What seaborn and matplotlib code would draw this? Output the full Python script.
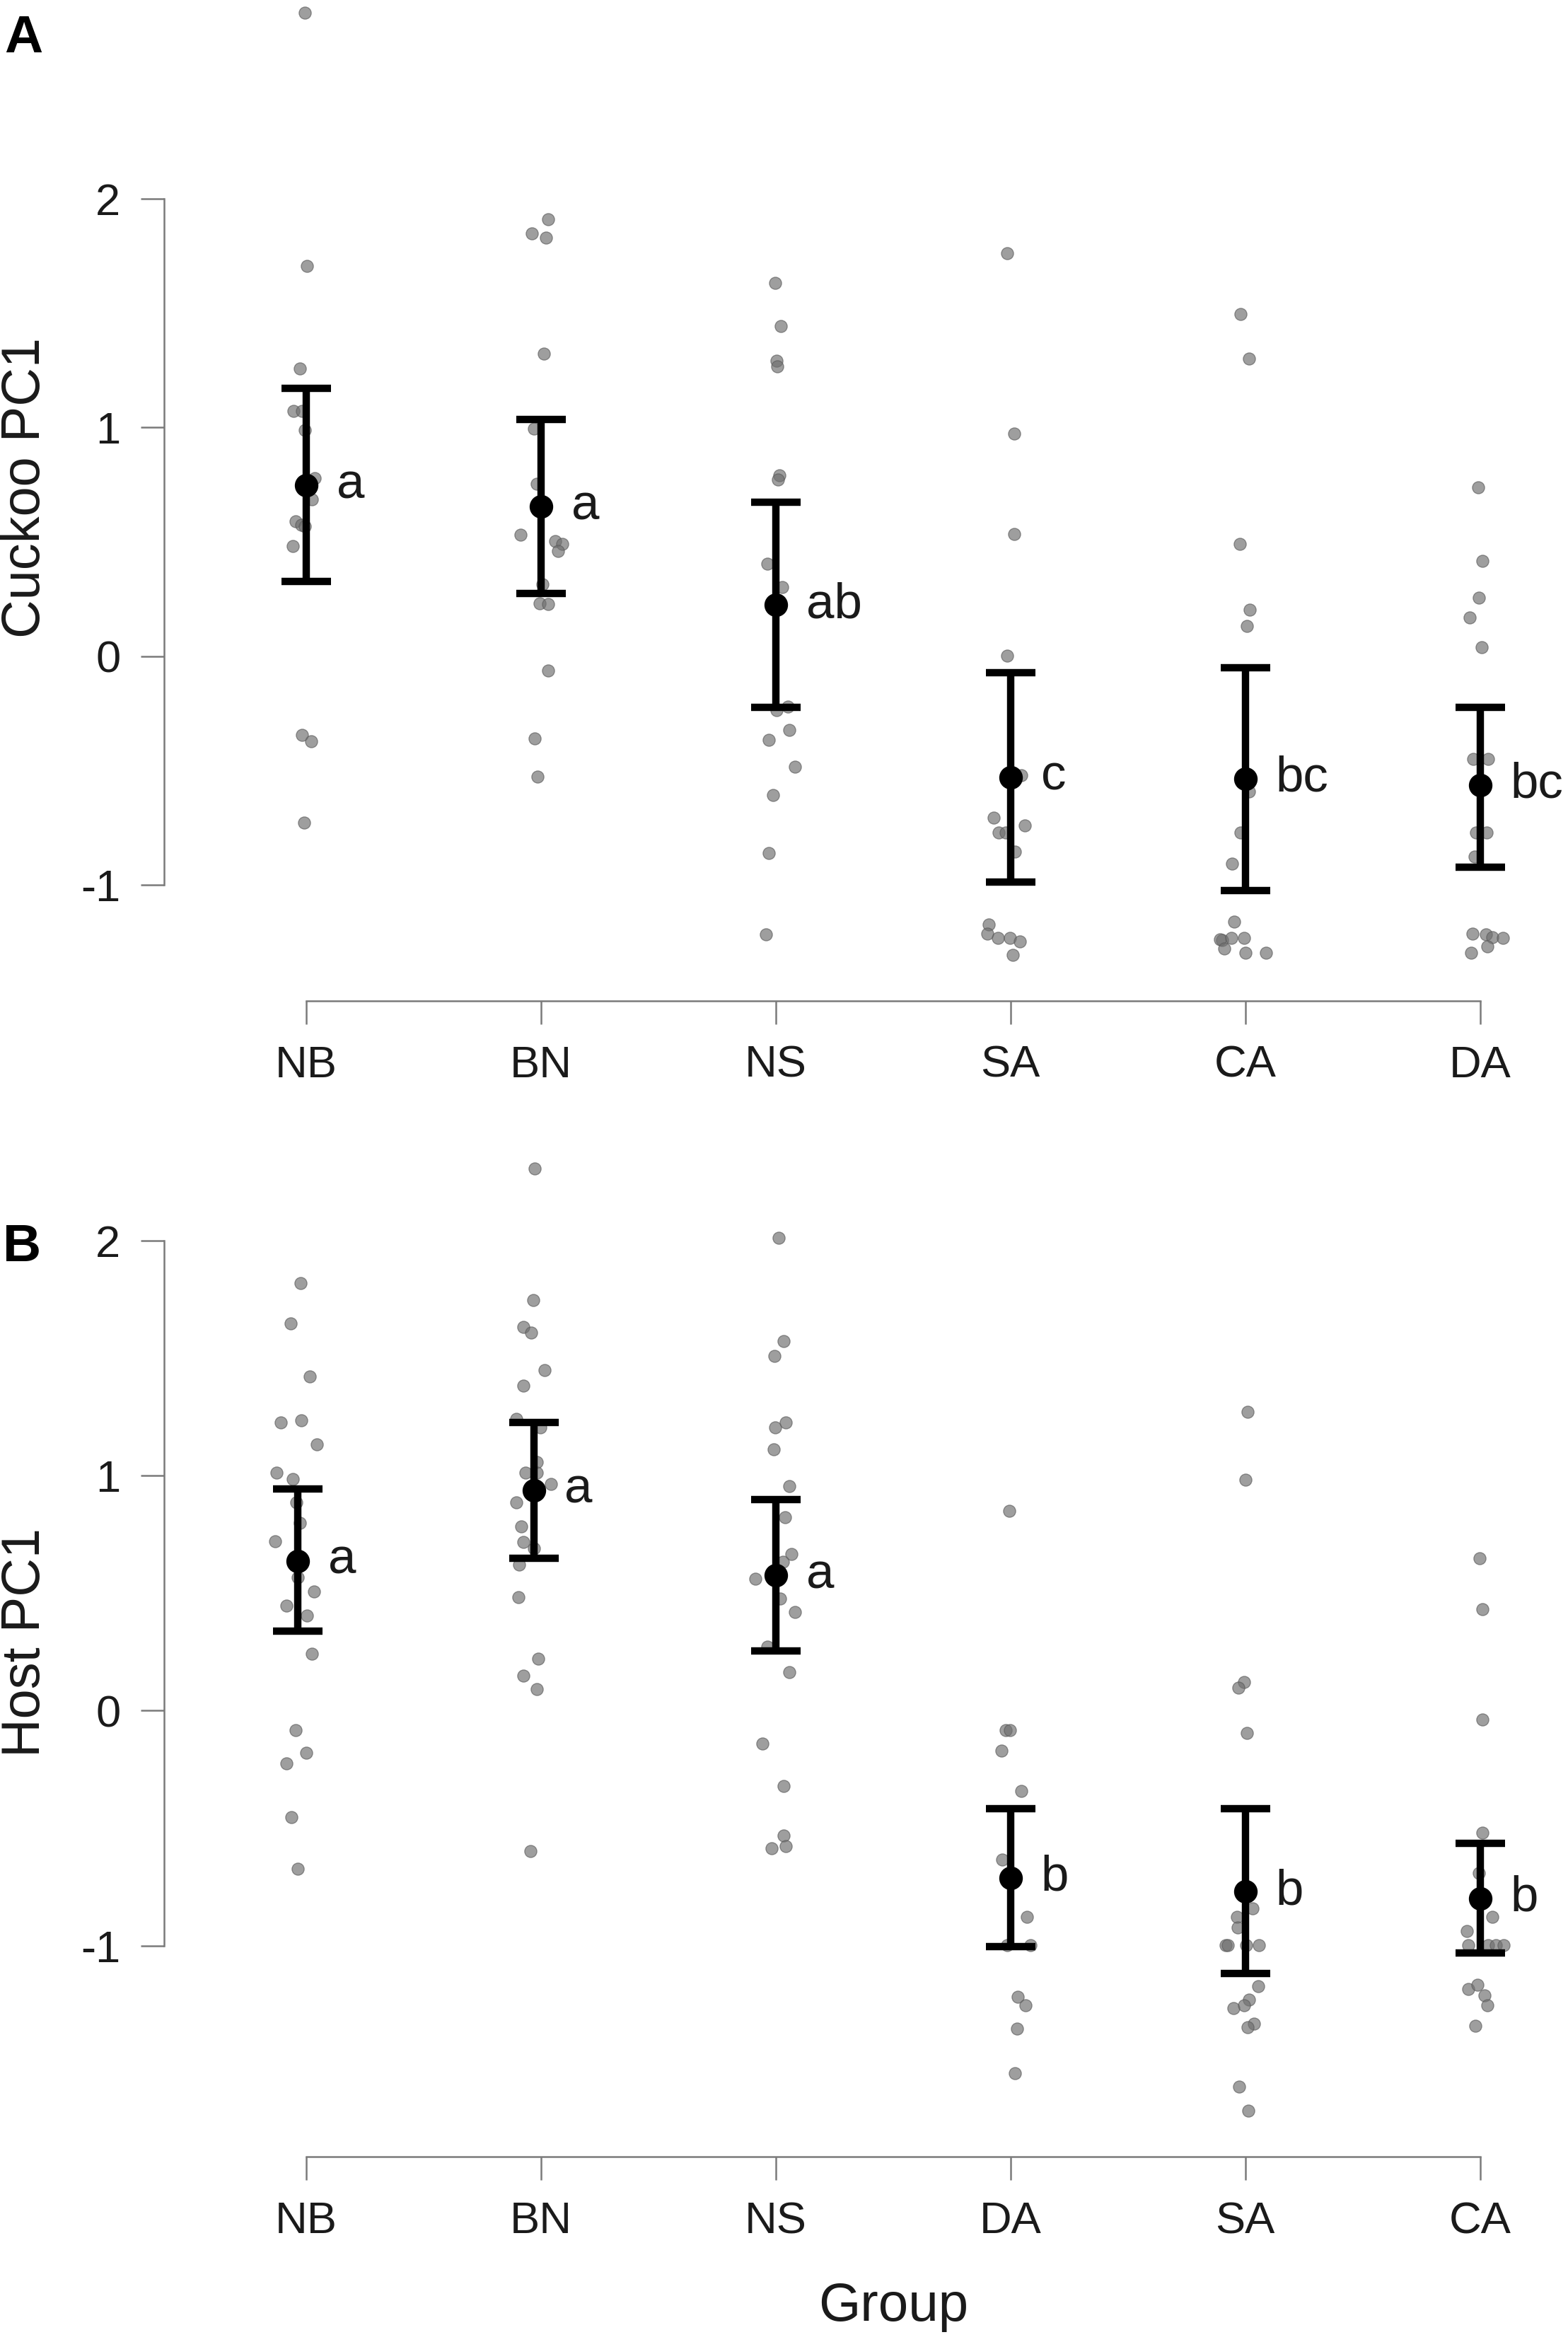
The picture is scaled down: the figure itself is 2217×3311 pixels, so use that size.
import numpy as np
import pandas as pd
import matplotlib
matplotlib.use('Agg')
import matplotlib.pyplot as plt
import seaborn as sns

# ---- Panel A: Cuckoo PC1 ----
a_groups = ['NB', 'BN', 'NS', 'SA', 'CA', 'DA']
a_letters = ['a', 'a', 'ab', 'c', 'bc', 'bc']
a_mean = [0.747, 0.653, 0.223, -0.530, -0.535, -0.564]
a_lo = [0.326, 0.275, -0.223, -0.988, -1.025, -0.922]
a_hi = [1.171, 1.036, 0.673, -0.074, -0.052, -0.223]

a_nb = [2.814, 1.706, 1.257, 1.071, 1.071, 0.988, 0.779, 0.684, 0.590, 0.575, 0.567, 0.481, -0.346, -0.372, -0.727]
a_nb_jit = [-0.005, 0.002, -0.028, -0.055, -0.018, -0.005, 0.035, 0.023, -0.046, -0.021, -0.005, -0.058, -0.018, 0.021, -0.009]
a_bn = [1.909, 1.849, 1.829, 1.323, 0.996, 0.753, 0.532, 0.504, 0.492, 0.458, 0.315, 0.232, 0.226, -0.063, -0.361, -0.527]
a_bn_jit = [0.030, -0.039, 0.023, 0.012, -0.030, -0.018, -0.088, 0.062, 0.090, 0.074, 0.005, -0.007, 0.032, 0.032, -0.028, -0.016]
a_ns = [1.632, 1.443, 1.291, 1.268, 0.790, 0.773, 0.404, 0.303, -0.220, -0.235, -0.324, -0.366, -0.484, -0.607, -0.862, -1.217]
a_ns_jit = [-0.002, 0.023, 0.005, 0.007, 0.016, 0.009, -0.035, 0.028, 0.051, 0.005, 0.058, -0.030, 0.081, -0.012, -0.030, -0.042]
a_sa = [1.761, 0.973, 0.533, 0.003, -0.521, -0.707, -0.741, -0.773, -0.770, -0.856, -1.174, -1.214, -1.231, -1.231, -1.248, -1.308]
a_sa_jit = [-0.013, 0.015, 0.015, -0.013, 0.047, -0.071, 0.060, -0.049, -0.021, 0.019, -0.092, -0.099, -0.054, -0.002, 0.041, 0.011]
a_ca = [1.497, 1.300, 0.492, 0.203, 0.132, -0.593, -0.770, -0.908, -1.162, -1.242, -1.240, -1.231, -1.231, -1.280, -1.297, -1.297]
a_ca_jit = [-0.019, 0.015, -0.024, 0.019, 0.006, 0.015, -0.021, -0.056, -0.047, -0.099, -0.107, -0.060, -0.006, -0.088, 0.002, 0.090]
a_da = [0.739, 0.415, 0.255, 0.169, 0.040, -0.449, -0.449, -0.770, -0.770, -0.876, -1.214, -1.217, -1.228, -1.231, -1.271, -1.297]
a_da_jit = [-0.009, 0.011, -0.004, -0.045, 0.006, -0.028, 0.034, -0.017, 0.028, -0.024, -0.032, 0.026, 0.054, 0.097, 0.032, -0.039]

# ---- Panel B: Host PC1 ----
b_groups = ['NB', 'BN', 'NS', 'DA', 'SA', 'CA']
b_letters = ['a', 'a', 'a', 'b', 'b', 'b']
b_mean = [0.638, 0.938, 0.576, -0.711, -0.770, -0.799]
b_lo = [0.339, 0.648, 0.253, -1.003, -1.118, -1.030]
b_hi = [0.944, 1.227, 0.898, -0.418, -0.418, -0.566]
b_mean_shift = [-0.035, -0.030, 0.0, 0.0, 0.0, 0.0]

b_nb = [1.819, 1.648, 1.424, 1.227, 1.237, 1.135, 1.013, 0.987, 0.888, 0.799, 0.720, 0.569, 0.507, 0.447, 0.405, 0.243, -0.082, -0.178, -0.224, -0.454, -0.674]
b_nb_jit = [-0.023, -0.067, 0.016, -0.108, -0.021, 0.046, -0.127, -0.058, -0.042, -0.028, -0.131, -0.037, 0.032, -0.083, 0.002, 0.023, -0.046, 0.000, -0.085, -0.062, -0.037]
b_bn = [2.309, 1.747, 1.635, 1.609, 1.451, 1.385, 1.243, 1.207, 1.059, 1.013, 1.013, 0.964, 0.888, 0.783, 0.717, 0.691, 0.622, 0.484, 0.220, 0.148, 0.092, -0.599]
b_bn_jit = [-0.028, -0.032, -0.076, -0.042, 0.016, -0.076, -0.104, -0.002, -0.018, -0.065, -0.018, 0.042, -0.104, -0.083, -0.076, -0.030, -0.092, -0.095, -0.012, -0.076, -0.018, -0.046]
b_ns = [2.013, 1.572, 1.510, 1.207, 1.227, 1.112, 0.957, 0.822, 0.668, 0.635, 0.562, 0.477, 0.421, 0.273, 0.164, -0.141, -0.322, -0.533, -0.586, -0.576]
b_ns_jit = [0.012, 0.035, -0.005, -0.002, 0.044, -0.007, 0.058, 0.039, 0.067, 0.032, -0.088, 0.018, 0.081, -0.035, 0.058, -0.058, 0.035, 0.035, -0.018, 0.044]
b_da = [0.852, -0.082, -0.082, -0.171, -0.342, -0.635, -0.878, -0.997, -0.997, -1.217, -1.253, -1.355, -1.543]
b_da_jit = [-0.006, -0.019, -0.002, -0.039, 0.045, -0.034, 0.069, 0.084, -0.013, 0.030, 0.064, 0.028, 0.019]
b_sa = [1.273, 0.984, 0.122, 0.099, -0.095, -0.842, -0.878, -0.924, -0.997, -0.997, -0.997, -0.997, -1.174, -1.230, -1.266, -1.253, -1.332, -1.349, -1.602, -1.704]
b_sa_jit = [0.011, 0.000, -0.006, -0.028, 0.006, 0.032, -0.034, -0.032, -0.084, -0.075, 0.004, 0.058, 0.056, 0.015, -0.049, -0.006, 0.036, 0.011, -0.026, 0.013]
b_ca = [0.648, 0.431, -0.039, -0.520, -0.691, -0.878, -0.938, -0.997, -0.997, -0.997, -0.997, -1.184, -1.168, -1.211, -1.253, -1.342]
b_ca_jit = [-0.002, 0.009, 0.009, 0.011, -0.006, 0.052, -0.056, -0.049, 0.036, 0.069, 0.101, -0.049, -0.011, 0.019, 0.032, -0.021]

a_points = [(a_nb, a_nb_jit), (a_bn, a_bn_jit), (a_ns, a_ns_jit),
            (a_sa, a_sa_jit), (a_ca, a_ca_jit), (a_da, a_da_jit)]
b_points = [(b_nb, b_nb_jit), (b_bn, b_bn_jit), (b_ns, b_ns_jit),
            (b_da, b_da_jit), (b_sa, b_sa_jit), (b_ca, b_ca_jit)]


def make_df(groups, points):
    rows = []
    for i, (g, (vals, jit)) in enumerate(zip(groups, points)):
        for v, j in zip(vals, jit):
            rows.append({'group': g, 'xpos': i + 1 + j, 'pc1': v})
    return pd.DataFrame(rows)


sns.set_theme(style='ticks')
plt.rcParams['font.family'] = ['Liberation Sans', 'DejaVu Sans']
plt.rcParams['axes.unicode_minus'] = False

axis_grey = '#7a7a7a'
text_col = '#1a1a1a'

fig = plt.figure(figsize=(2217 / 300, 3311 / 300), dpi=300)
axA = fig.add_axes([0.1048, 0.5727, 0.8952, 0.4273])
axB = fig.add_axes([0.1048, 0.0791, 0.8952, 0.4382])


def draw_panel(ax, groups, points, means, lo, hi, letters, ylim, shift=None):
    df = make_df(groups, points)
    # jittered raw points
    sns.scatterplot(data=df, x='xpos', y='pc1', ax=ax, color='#707070',
                    alpha=0.68, s=17, edgecolor='#5a5a5a', linewidth=0.3,
                    legend=False, zorder=2)
    if shift is None:
        shift = [0.0] * len(groups)
    xs = np.arange(1, len(groups) + 1) + np.array(shift)
    m = np.array(means)
    yerr = [m - np.array(lo), np.array(hi) - m]
    # group mean with interval
    ax.errorbar(xs, m, yerr=yerr, fmt='o', color='black', ms=7,
                elinewidth=2.5, capsize=8.3, capthick=2.5, zorder=3)
    for x, y, lab in zip(xs, m, letters):
        ax.text(x + 0.13, y, lab, ha='left', va='center', fontsize=17,
                color=text_col)

    ax.set_xlim(0.3957, 6.375)
    ax.set_ylim(*ylim)
    ax.set_xticks(range(1, len(groups) + 1))
    ax.set_xticklabels(groups)
    ax.set_yticks([-1, 0, 1, 2])
    ax.set_yticklabels(['-1', '0', '1', '2'])
    ax.set_xlabel('')
    ax.set_ylabel('')
    for side in ['top', 'right']:
        ax.spines[side].set_visible(False)
    for side in ['left', 'bottom']:
        ax.spines[side].set_color(axis_grey)
        ax.spines[side].set_linewidth(0.6)
    ax.spines['left'].set_bounds(-1, 2)
    ax.spines['bottom'].set_bounds(1, len(groups))
    ax.tick_params(axis='both', length=7.9, width=0.6, color=axis_grey,
                   labelsize=15.2, labelcolor=text_col, pad=7)
    ax.patch.set_alpha(0)


draw_panel(axA, a_groups, a_points, a_mean, a_lo, a_hi, a_letters,
           (-1.507, 2.869))
draw_panel(axB, b_groups, b_points, b_mean, b_lo, b_hi, b_letters,
           (-1.899, 2.47), shift=b_mean_shift)

fig.text(0.0164, 0.7919, 'Cuckoo PC1', rotation=90, ha='center', va='center',
         fontsize=18.2, color=text_col)
fig.text(0.0164, 0.2987, 'Host PC1', rotation=90, ha='center', va='center',
         fontsize=18.2, color=text_col)
fig.text(0.5697, 0.0151, 'Group', ha='center', va='center', fontsize=18.3,
         color=text_col)
fig.text(0.0027, 0.994, 'A', ha='left', va='top', fontsize=18,
         fontweight='bold', color='black')
fig.text(0.0018, 0.4778, 'B', ha='left', va='top', fontsize=18,
         fontweight='bold', color='black')

fig.savefig('out.png', dpi=300)
